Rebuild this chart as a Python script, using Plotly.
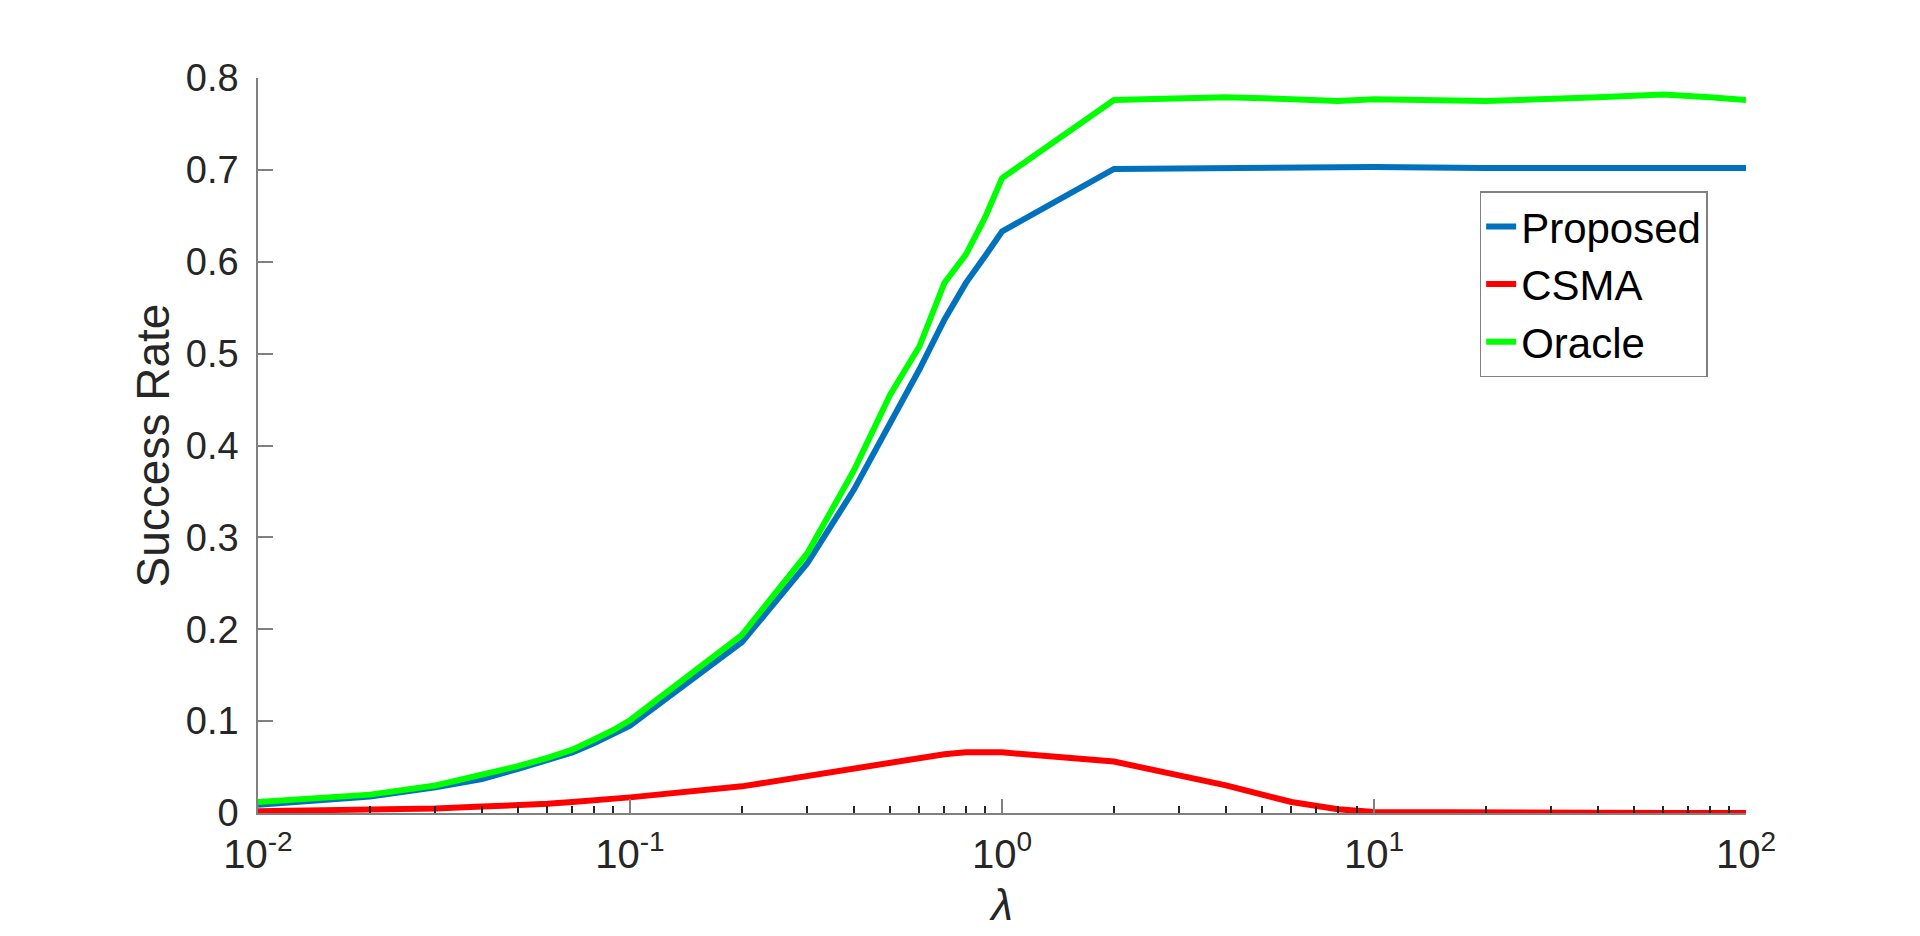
import plotly.graph_objects as go

# lambda values (log axis)
lam = [0.01, 0.02, 0.03, 0.04, 0.05, 0.06, 0.07, 0.08, 0.09, 0.1,
       0.2, 0.3, 0.4, 0.5, 0.6, 0.7, 0.8, 0.9, 1,
       2, 4, 6, 8, 10, 20, 40, 60, 80, 100]

proposed = [0.009, 0.018, 0.028, 0.037, 0.048, 0.057, 0.066, 0.076, 0.086, 0.095,
            0.186, 0.272, 0.352, 0.423, 0.483, 0.537, 0.577, 0.606, 0.633,
            0.701, 0.702, 0.701, 0.702, 0.703, 0.702, 0.702, 0.702, 0.702, 0.702]

csma = [0.002, 0.003, 0.005, 0.007, 0.008, 0.010, 0.012, 0.014, 0.015, 0.017,
        0.029, 0.040, 0.048, 0.055, 0.060, 0.064, 0.066, 0.066, 0.066,
        0.056, 0.030, 0.012, 0.004, 0.001, 0.0, 0.0, 0.0, 0.0, 0.0]

oracle = [0.012, 0.020, 0.030, 0.041, 0.051, 0.060, 0.069, 0.080, 0.090, 0.101,
          0.194, 0.283, 0.373, 0.455, 0.508, 0.577, 0.608, 0.648, 0.691,
          0.776, 0.779, 0.777, 0.775, 0.777, 0.775, 0.779, 0.782, 0.779, 0.776]

x_ticks = [0.01, 0.1, 1, 10, 100]
x_ticktext = ["10<sup>-2</sup>", "10<sup>-1</sup>", "10<sup>0</sup>", "10<sup>1</sup>", "10<sup>2</sup>"]
y_ticks = [0, 0.1, 0.2, 0.3, 0.4, 0.5, 0.6, 0.7, 0.8]
y_ticktext = ["0", "0.1", "0.2", "0.3", "0.4", "0.5", "0.6", "0.7", "0.8"]

minor_ticks = [k * 10.0 ** e for e in range(-2, 2) for k in range(2, 10)]

FONT = "Liberation Sans, Arial, sans-serif"
AXIS_GRIS = "#808080"
TEXTO = "#262626"

series = [
    ("Proposed", proposed, "#0072BD"),
    ("CSMA", csma, "#FF0000"),
    ("Oracle", oracle, "#00FF00"),
]

fig = go.Figure()
for nombre, valores, color in series:
    fig.add_trace(go.Scatter(
        x=lam, y=valores, name=nombre, mode="lines",
        line=dict(color=color, width=6),
    ))

fig.update_layout(
    width=1920, height=936,
    margin=dict(l=250, r=182, t=70, b=131),
    paper_bgcolor="white", plot_bgcolor="white",
    font=dict(family=FONT, size=38, color=TEXTO),
    showlegend=True,
    legend=dict(
        x=0.821, y=0.846, xanchor="left", yanchor="top",
        bgcolor="white", bordercolor=AXIS_GRIS, borderwidth=1.5,
        font=dict(family=FONT, size=42, color="black"),
        tracegroupgap=0, itemwidth=30,
    ),
)

fig.update_xaxes(
    type="log", range=[-2, 2],
    tickmode="array", tickvals=x_ticks, ticktext=x_ticktext,
    ticks="inside", ticklen=14, tickwidth=1.5, tickcolor=AXIS_GRIS,
    tickfont=dict(size=40, color=TEXTO), ticklabelstandoff=5,
    showline=True, linecolor=AXIS_GRIS, linewidth=1.5,
    showgrid=False, zeroline=False, mirror=False,
    minor=dict(tickmode="array", tickvals=minor_ticks, ticks="inside",
               ticklen=7, tickwidth=1.5, tickcolor=TEXTO, showgrid=False),
    title=dict(text="<i>λ</i>", font=dict(size=44, color=TEXTO), standoff=14),
)

fig.update_yaxes(
    range=[0, 0.8],
    tickmode="array", tickvals=y_ticks, ticktext=y_ticktext,
    ticks="inside", ticklen=15, tickwidth=1.5, tickcolor=AXIS_GRIS,
    tickfont=dict(size=38, color=TEXTO), ticklabelstandoff=10,
    showline=True, linecolor=AXIS_GRIS, linewidth=1.5,
    showgrid=False, zeroline=False, mirror=False,
    title=dict(text="Success Rate", font=dict(size=46, color=TEXTO), standoff=2),
)

fig.write_html("out.html")
